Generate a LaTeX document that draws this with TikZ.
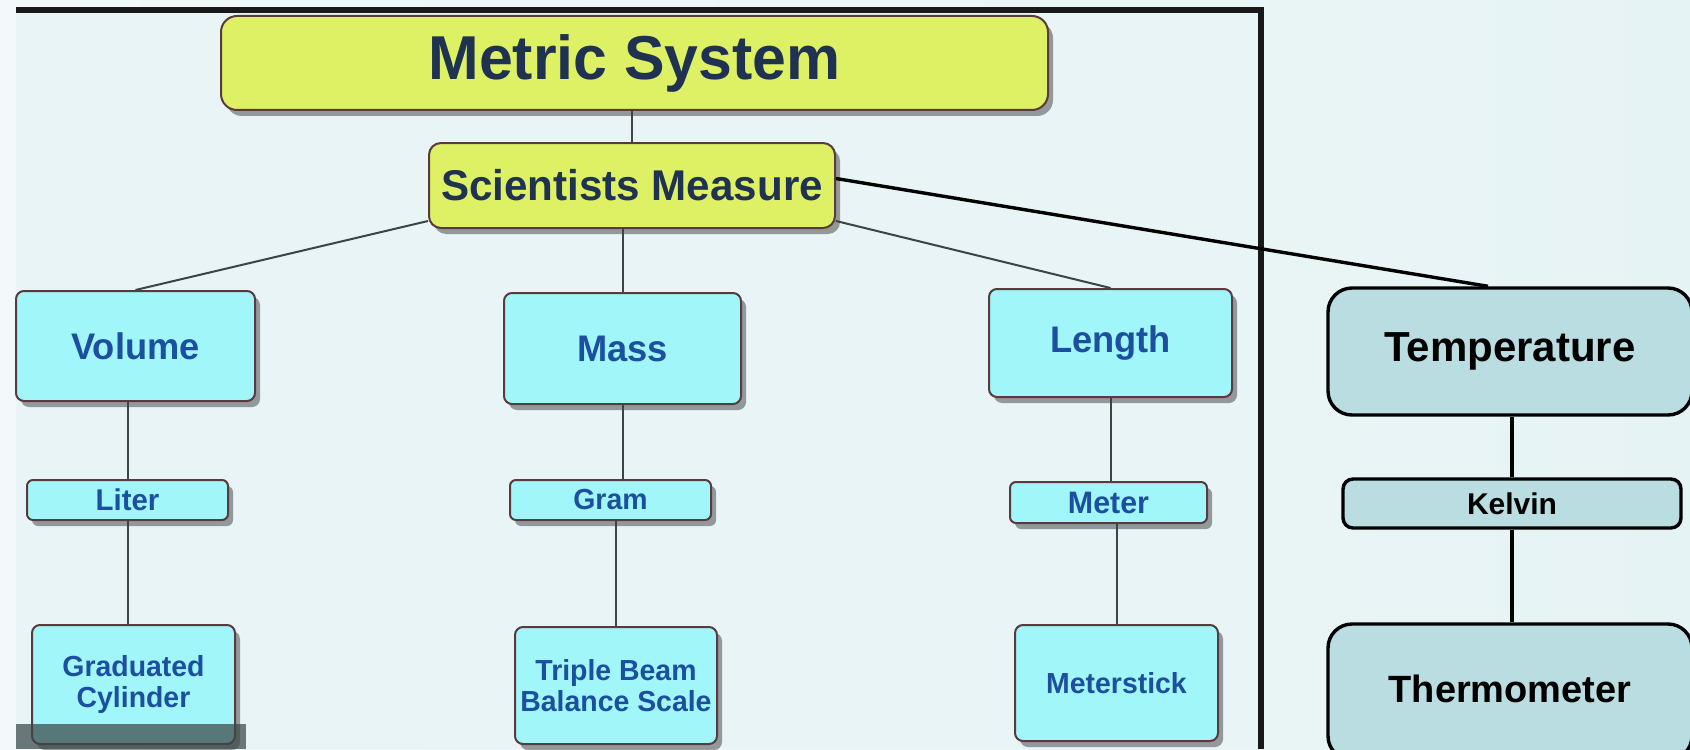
\documentclass[tikz,border=0pt]{standalone}
\usepackage{fontspec}
\setmainfont{Liberation Sans}
\newfontfamily\imgfont[FakeStretch=0.98]{Liberation Sans}
\usetikzlibrary{shadows,calc}
\definecolor{pagebgA}{HTML}{F3F9FA}
\definecolor{pagebgB}{HTML}{E6F3F4}
\definecolor{imgbg}{HTML}{E8F4F5}
\definecolor{ylw}{HTML}{DEF064}
\definecolor{cyn}{HTML}{A0F6F8}
\definecolor{boxedge}{HTML}{5A3A3E}
\definecolor{navy}{HTML}{1F3252}
\definecolor{txtblue}{HTML}{1C4FA0}
\definecolor{linegrey}{HTML}{3C4446}
\definecolor{tfill}{HTML}{B9DDE0}
\definecolor{barcol}{HTML}{3A4848}
\tikzset{
  ybox/.style={draw=boxedge, line width=1pt, fill=ylw, rounded corners=6pt,
    drop shadow={shadow xshift=2.5pt, shadow yshift=-3pt, opacity=0.5, fill=black!75},
    text=navy, inner sep=0pt, align=center},
  cbox/.style={draw=boxedge, line width=1pt, fill=cyn, rounded corners=4pt,
    drop shadow={shadow xshift=2.5pt, shadow yshift=-3pt, opacity=0.5, fill=black!75},
    text=txtblue, inner sep=0pt, align=center},
  rbox/.style={draw=black, line width=1.7pt, fill=tfill, rounded corners=12pt,
    inner sep=0pt, align=center, text=black},
  link/.style={draw=linegrey, line width=1pt},
  rlink/.style={draw=black, line width=1.7pt}
}
\begin{document}
\begin{tikzpicture}[x=0.5pt,y=-0.5pt]
\useasboundingbox (0,0) rectangle (1690,749);
\shade[left color=pagebgA, right color=pagebgB] (0,0) rectangle (1690,749);
% embedded picture area
\fill[imgbg] (16,9) rectangle (1264,749);
\fill[black!90] (16,7) rectangle (1264,13);
\fill[black!90] (1258,7) rectangle (1264,749);

% left diagram nodes
\node[ybox, minimum width=413.5pt, minimum height=47pt, rounded corners=8pt,
      font=\imgfont\bfseries\fontsize{31}{34}\selectfont] (metric) at (634.5,63) {Metric System};
\node[ybox, minimum width=203pt, minimum height=42.5pt,
      font=\imgfont\bfseries\fontsize{21.5}{24}\selectfont] (sci) at (632,185.5) {Scientists Measure};

\node[cbox, minimum width=119.5pt, minimum height=55pt,
      font=\imgfont\bfseries\fontsize{18.5}{20}\selectfont] (vol) at (135.5,346) {Volume};
\node[cbox, minimum width=118.5pt, minimum height=55.5pt,
      font=\imgfont\bfseries\fontsize{18.5}{20}\selectfont] (mass) at (622.5,348.5) {Mass};
\node[cbox, minimum width=121.5pt, minimum height=54pt,
      font=\imgfont\bfseries\fontsize{18.5}{20}\selectfont] (len) at (1110.5,343) {Length};

\node[cbox, minimum width=100.5pt, minimum height=20pt, rounded corners=3pt,
      font=\imgfont\bfseries\fontsize{15}{16}\selectfont] (liter) at (127.5,500) {Liter};
\node[cbox, minimum width=100.5pt, minimum height=20pt, rounded corners=3pt,
      font=\imgfont\bfseries\fontsize{14.5}{16}\selectfont] (gram) at (610.5,500) {Gram};
\node[cbox, minimum width=98.5pt, minimum height=20.5pt, rounded corners=3pt,
      font=\imgfont\bfseries\fontsize{15.5}{16}\selectfont] (meter) at (1108.5,502.5) {Meter};

\node[cbox, minimum width=101.5pt, minimum height=59.5pt,
      font=\imgfont\bfseries\fontsize{14.5}{15.5}\selectfont] (grad) at (133.5,684.5) {Graduated\\Cylinder};
\node[cbox, minimum width=101pt, minimum height=58.5pt,
      font=\imgfont\bfseries\fontsize{14.5}{15.5}\selectfont] (triple) at (616,685.5) {Triple Beam\\Balance Scale};
\node[cbox, minimum width=101.5pt, minimum height=58pt,
      font=\imgfont\bfseries\fontsize{14.5}{15.5}\selectfont] (stick) at (1116.5,683) {Meterstick};

% dark bar at bottom left of the picture
\fill[barcol, opacity=0.72] (16,724) rectangle (246,749);

% left connectors
\draw[link] (sci.north |- metric.south) -- (sci.north);
\draw[link] ($(sci.south west)+(0,-8)$) -- (vol.north);
\draw[link] (mass.north |- sci.south) -- (mass.north);
\draw[link] ($(sci.south east)+(0,-8)$) -- (len.north);
\draw[link] (liter.north |- vol.south) -- (liter.north);
\draw[link] (liter.south) -- (liter.south |- grad.north);
\draw[link] (mass.south) -- (mass.south |- gram.north);
\draw[link] (triple.north |- gram.south) -- (triple.north);
\draw[link] (len.south) -- (len.south |- meter.north);
\draw[link] (stick.north |- meter.south) -- (stick.north);

% right diagram
\node[rbox, minimum width=182pt, minimum height=63.5pt,
      font=\fontsize{21}{22}\selectfont\bfseries] (temp) at (1510,351.5) {Temperature};
\node[rbox, minimum width=169pt, minimum height=24.5pt, rounded corners=5pt,
      font=\fontsize{15}{16}\selectfont\bfseries] (kel) at (1512,503.5) {Kelvin};
\node[rbox, minimum width=182pt, minimum height=68pt, text depth=0pt,
      font=\fontsize{19}{22}\selectfont\bfseries] (therm) at (1510,692) {\raisebox{3pt}{Thermometer}};

\draw[rlink] ($(sci.east)+(0,-7)$) -- ($(temp.north)+(-22,0)$);
\draw[rlink] (kel.north |- temp.south) -- (kel.north);
\draw[rlink] (kel.south) -- (kel.south |- therm.north);
\end{tikzpicture}
\end{document}
